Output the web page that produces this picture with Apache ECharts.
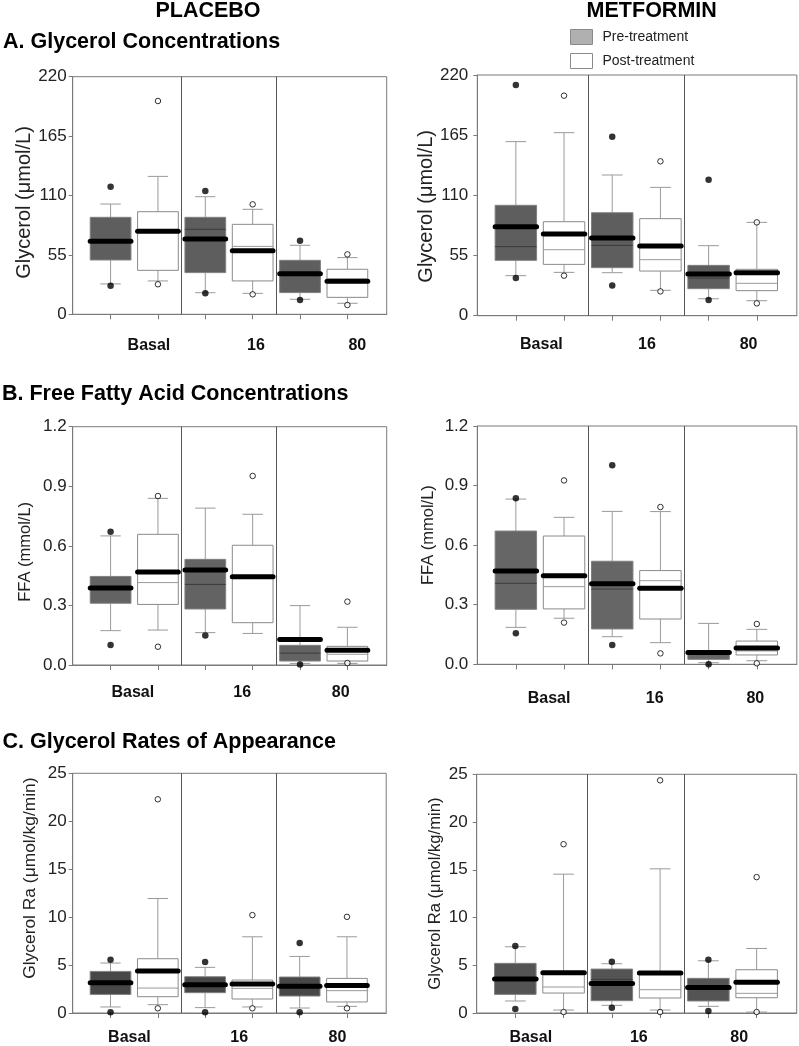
<!DOCTYPE html>
<html><head><meta charset="utf-8">
<script src="https://cdn.jsdelivr.net/npm/echarts@6/dist/echarts.min.js"></script>
<style>html,body{margin:0;padding:0;background:#fff}#c{width:799px;height:1046px}</style>
</head><body><div id="c"></div>
<script>
const categories = ['Basal', '16', '80'];
const legendNames = ['Pre-treatment', 'Post-treatment'];

// Box statistics per category: [lower whisker, Q1, median, Q3, upper whisker, mean]
const glyPlaPre  = [[28.1, 50.3, 68.0, 89.8, 102.1, 67.6], [20.0, 38.6, 78.7, 89.8, 108.9, 69.7], [13.9, 20.1, 38.0, 50.0, 63.9, 37.6]];
const glyPlaPost = [[30.9, 40.7, 77.0, 95.0, 127.7, 76.8], [19.4, 30.9, 62.9, 83.3, 97.2, 58.9], [10.2, 15.7, 32.7, 41.7, 52.5, 30.5]];
const glyMetPre  = [[36.6, 50.6, 63.1, 100.9, 159.1, 81.4], [39.3, 43.9, 64.3, 94.1, 128.6, 71.0], [15.5, 24.7, 34.4, 46.0, 64.0, 38.1]];
const glyMetPost = [[39.6, 46.9, 60.3, 85.9, 167.3, 74.7], [23.2, 40.8, 51.2, 88.7, 117.3, 63.7], [13.7, 22.9, 29.6, 42.4, 85.3, 39.3]];

const ffaPlaPre  = [[0.173, 0.311, 0.380, 0.446, 0.650, 0.388], [0.163, 0.282, 0.406, 0.532, 0.790, 0.478], [0.008, 0.020, 0.060, 0.099, 0.299, 0.129]];
const ffaPlaPost = [[0.176, 0.305, 0.415, 0.658, 0.839, 0.468], [0.159, 0.213, 0.445, 0.603, 0.759, 0.445], [0.008, 0.020, 0.054, 0.094, 0.190, 0.074]];
const ffaMetPre  = [[0.186, 0.277, 0.408, 0.671, 0.832, 0.470], [0.139, 0.178, 0.379, 0.519, 0.770, 0.406], [0.008, 0.025, 0.055, 0.067, 0.206, 0.060]];
const ffaMetPost = [[0.232, 0.279, 0.391, 0.646, 0.740, 0.446], [0.109, 0.228, 0.421, 0.472, 0.769, 0.383], [0.018, 0.047, 0.067, 0.117, 0.176, 0.082]];

const raPlaPre  = [[0.63, 1.94, 3.10, 4.34, 5.21, 3.16], [0.56, 2.12, 2.90, 3.78, 4.76, 2.95], [0.52, 1.77, 2.80, 3.75, 5.90, 2.78]];
const raPlaPost = [[0.87, 1.70, 2.60, 5.66, 11.94, 4.38], [0.63, 1.46, 2.57, 3.44, 7.95, 3.02], [0.69, 1.15, 2.33, 3.61, 7.95, 2.88]];
const raMetPre  = [[1.26, 1.95, 3.50, 5.20, 6.94, 3.56], [0.80, 1.29, 3.52, 4.60, 5.16, 3.10], [0.70, 1.26, 2.70, 3.63, 5.47, 2.68]];
const raMetPost = [[0.31, 2.09, 2.72, 4.25, 14.54, 4.22], [0.31, 1.57, 2.44, 4.18, 15.10, 4.18], [0.10, 1.60, 2.06, 4.53, 6.76, 3.21]];

// Outliers per category
const glyPlaPreOut  = [[118.2, 26.5], [114.2, 19.4], [68.2, 13.3]];
const glyPlaPostOut = [[197.5, 27.8], [101.8, 18.5], [55.5, 8.6]];
const glyMetPreOut  = [[210.8, 34.4], [163.6, 27.7], [124.3, 14.3]];
const glyMetPostOut = [[201.1, 36.6], [141.1, 22.2], [85.3, 11.3]];
const ffaPlaPreOut  = [[0.671, 0.101], [0.148], [0.002]];
const ffaPlaPostOut = [[0.851, 0.092], [0.952], [0.319, 0.010]];
const ffaMetPreOut  = [[0.836, 0.156], [1.002, 0.097], [0.0]];
const ffaMetPostOut = [[0.926, 0.210], [0.792, 0.055], [0.203, 0.005]];
const raPlaPreOut   = [[5.56, 0.07], [5.31, 0.07], [7.29, 0.07]];
const raPlaPostOut  = [[22.29, 0.49], [10.21, 0.49], [10.03, 0.49]];
const raMetPreOut   = [[7.01, 0.42], [5.37, 0.56], [5.58, 0.21]];
const raMetPostOut  = [[17.68, 0.10], [24.37, 0.10], [14.23, 0.10]];

// Y axis ticks
const glyTicks = {min: 0, max: 220, interval: 55};
const ffaTicks = {min: 0, max: 1.2, interval: 0.3};
const raTicks  = {min: 0, max: 25, interval: 5};

const panels = [
  {grid: {left: 72.7, top: 76.7, width: 314, height: 237.6}, ticks: glyTicks, name: 'Glycerol (\u03bcmol/L)', nameSize: 20, nameGap: 38.5, namePad: [0, 14, 0, 0], dec: 0, ylm: 6,
   pre: glyPlaPre, post: glyPlaPost, preOut: glyPlaPreOut, postOut: glyPlaPostOut, fill: '#5e5e5e', lab: [1.81, 4.07, 6.21], lm: 23},
  {grid: {left: 477.3, top: 75, width: 319.5, height: 240.7}, ticks: glyTicks, name: 'Glycerol (\u03bcmol/L)', nameSize: 20, nameGap: 39, namePad: [0, 22, 0, 0], dec: 0, ylm: 9,
   pre: glyMetPre, post: glyMetPost, preOut: glyMetPreOut, postOut: glyMetPostOut, fill: '#5e5e5e', lab: [1.53, 3.72, 5.83], lm: 21},
  {grid: {left: 72.7, top: 426.7, width: 314, height: 238.3}, ticks: ffaTicks, name: 'FFA (mmol/L)', nameSize: 16.5, nameGap: 38.5, namePad: [0, 12, 0, 0], dec: 1, ylm: 6,
   pre: ffaPlaPre, post: ffaPlaPost, preOut: ffaPlaPreOut, postOut: ffaPlaPostOut, fill: '#636363', lab: [1.47, 3.78, 5.86], lm: 20},
  {grid: {left: 477.3, top: 426, width: 319.5, height: 238.3}, ticks: ffaTicks, name: 'FFA (mmol/L)', nameSize: 16.5, nameGap: 40, namePad: [0, 0, 0, 20], dec: 1, ylm: 9,
   pre: ffaMetPre, post: ffaMetPost, preOut: ffaMetPreOut, postOut: ffaMetPostOut, fill: '#666666', lab: [1.69, 3.88, 5.97], lm: 26},
  {grid: {left: 72.7, top: 773.3, width: 313.5, height: 240}, ticks: raTicks, name: 'Glycerol Ra (\u03bcmol/kg/min)', nameSize: 17.4, nameGap: 34, namePad: [0, 0, 0, 30], dec: 0, ylm: 6,
   pre: raPlaPre, post: raPlaPost, preOut: raPlaPreOut, postOut: raPlaPostOut, fill: '#474747', lab: [1.40, 3.72, 5.80], lm: 17},
  {grid: {left: 476.7, top: 774.3, width: 320, height: 239}, ticks: raTicks, name: 'Glycerol Ra (\u03bcmol/kg/min)', nameSize: 16.6, nameGap: 33, namePad: [0, 0, 0, 0], dec: 0, ylm: 9,
   pre: raMetPre, post: raMetPost, preOut: raMetPreOut, postOut: raMetPostOut, fill: '#545454', lab: [1.32, 3.56, 5.64], lm: 17}
];

const BOX_W = 0.86;
const AXIS_C = '#7a7a7a';

function makeRender(fill, border, medColor) {
  return function (params, api) {
    const x = api.value(0);
    const lo = api.coord([x, api.value(1)]);
    const q1 = api.coord([x, api.value(2)]);
    const md = api.coord([x, api.value(3)]);
    const q3 = api.coord([x, api.value(4)]);
    const hi = api.coord([x, api.value(5)]);
    const mn = api.coord([x, api.value(6)]);
    const w = api.size([BOX_W, 0])[0];
    const cx = q1[0], half = w / 2, cap = w / 4;
    const wStyle = {stroke: '#9a9a9a', lineWidth: 1};
    return {type: 'group', children: [
      {type: 'line', shape: {x1: cx, y1: q3[1], x2: cx, y2: hi[1]}, style: wStyle},
      {type: 'line', shape: {x1: cx - cap, y1: hi[1], x2: cx + cap, y2: hi[1]}, style: wStyle},
      {type: 'line', shape: {x1: cx, y1: q1[1], x2: cx, y2: lo[1]}, style: wStyle},
      {type: 'line', shape: {x1: cx - cap, y1: lo[1], x2: cx + cap, y2: lo[1]}, style: wStyle},
      {type: 'rect', shape: {x: cx - half, y: q3[1], width: w, height: q1[1] - q3[1]}, style: {fill: fill, stroke: border, lineWidth: 1}},
      {type: 'line', shape: {x1: cx - half, y1: md[1], x2: cx + half, y2: md[1]}, style: {stroke: medColor, lineWidth: 1}},
      {type: 'line', shape: {x1: cx - half, y1: mn[1], x2: cx + half, y2: mn[1]}, style: {stroke: '#000', lineWidth: 5, lineCap: 'round'}}
    ]};
  };
}

const grids = [], xAxes = [], yAxes = [], series = [];
panels.forEach((p, gi) => {
  grids.push(Object.assign({show: true, borderColor: AXIS_C, borderWidth: 1, backgroundColor: '#fff'}, p.grid));
  xAxes.push({
    type: 'value', gridIndex: gi, min: 0.2, max: 6.83,
    axisLine: {show: true, lineStyle: {color: AXIS_C}},
    axisTick: {show: true, customValues: [1, 2, 3, 4, 5, 6], length: 5, lineStyle: {color: AXIS_C}},
    axisLabel: {show: true, customValues: p.lab, margin: p.lm, fontSize: 16, fontWeight: 'bold', color: '#111',
      fontFamily: 'Liberation Sans, Arial, sans-serif',
      formatter: (v) => categories[p.lab.indexOf(v)] || ''},
    splitLine: {show: false}
  });
  yAxes.push({
    type: 'value', gridIndex: gi, min: p.ticks.min, max: p.ticks.max, interval: p.ticks.interval,
    axisLine: {show: true, lineStyle: {color: AXIS_C}},
    axisTick: {show: true, length: 4, lineStyle: {color: AXIS_C}},
    axisLabel: {fontSize: 17, color: '#222', margin: p.ylm, fontFamily: 'Liberation Sans, Arial, sans-serif',
      formatter: (v) => Number(v).toFixed(p.dec)},
    splitLine: {show: false},
    name: p.name, nameLocation: 'middle', nameGap: p.nameGap,
    nameTextStyle: {fontSize: p.nameSize, color: '#222', padding: p.namePad, fontFamily: 'Liberation Sans, Arial, sans-serif'}
  });
  const preData = p.pre.map((s, i) => [2 * i + 1].concat(s));
  const postData = p.post.map((s, i) => [2 * i + 2].concat(s));
  series.push({type: 'custom', name: legendNames[0], xAxisIndex: gi, yAxisIndex: gi, data: preData,
    encode: {x: 0, y: [1, 2, 3, 4, 5, 6]}, itemStyle: {color: '#b0b0b0'},
    renderItem: makeRender(p.fill, '#808080', '#3a3a3a'), z: 2});
  series.push({type: 'custom', name: legendNames[1], xAxisIndex: gi, yAxisIndex: gi, data: postData,
    encode: {x: 0, y: [1, 2, 3, 4, 5, 6]}, itemStyle: {color: '#ffffff'},
    renderItem: makeRender('#ffffff', '#8a8a8a', '#9a9a9a'), z: 2});
  const preOut = [], postOut = [];
  p.preOut.forEach((arr, i) => arr.forEach(v => preOut.push([2 * i + 1, v])));
  p.postOut.forEach((arr, i) => arr.forEach(v => postOut.push([2 * i + 2, v])));
  series.push({type: 'scatter', name: 'pre-out-' + gi, xAxisIndex: gi, yAxisIndex: gi, data: preOut,
    symbol: 'circle', symbolSize: 6.5, itemStyle: {color: '#000'}, z: 4,
    markLine: {silent: true, symbol: ['none', 'none'], label: {show: false},
      lineStyle: {color: '#555', width: 1, type: 'solid'}, data: [{xAxis: 2.5}, {xAxis: 4.5}]}});
  series.push({type: 'scatter', name: 'post-out-' + gi, xAxisIndex: gi, yAxisIndex: gi, data: postOut,
    symbol: 'circle', symbolSize: 5.5, itemStyle: {color: '#fff', borderColor: '#000', borderWidth: 1}, z: 4});
});

const chart = echarts.init(document.getElementById('c'), null, {renderer: 'canvas'});
const hdr = {fontFamily: 'Liberation Sans, Arial, sans-serif', fontWeight: 'bold', fontSize: 21.5, fill: '#000'};
chart.setOption({
  animation: false,
  backgroundColor: '#fff',
  grid: grids, xAxis: xAxes, yAxis: yAxes, series: series,
  legend: {left: 570, top: 29, orient: 'vertical', itemWidth: 22, itemHeight: 15, itemGap: 8, padding: 0,
    selectedMode: false,
    textStyle: {fontSize: 14, color: '#222', padding: [0, 0, 0, 5], fontFamily: 'Liberation Sans, Arial, sans-serif'},
    data: [
      {name: legendNames[0], icon: 'rect', itemStyle: {color: '#b0b0b0', borderColor: '#8a8a8a', borderWidth: 1}},
      {name: legendNames[1], icon: 'rect', itemStyle: {color: '#ffffff', borderColor: '#8a8a8a', borderWidth: 1}}
    ]},
  graphic: [
    {type: 'text', x: 208, y: 11, style: Object.assign({text: 'PLACEBO', align: 'center', verticalAlign: 'middle'}, hdr)},
    {type: 'text', x: 651.7, y: 11, style: Object.assign({text: 'METFORMIN', align: 'center', verticalAlign: 'middle'}, hdr)},
    {type: 'text', x: 3, y: 42.5, style: Object.assign({text: 'A. Glycerol Concentrations', align: 'left', verticalAlign: 'middle'}, hdr)},
    {type: 'text', x: 2, y: 394, style: Object.assign({text: 'B. Free Fatty Acid Concentrations', align: 'left', verticalAlign: 'middle'}, hdr)},
    {type: 'text', x: 2.5, y: 742, style: Object.assign({text: 'C. Glycerol Rates of Appearance', align: 'left', verticalAlign: 'middle'}, hdr)}
  ]
});
</script>
</body></html>
